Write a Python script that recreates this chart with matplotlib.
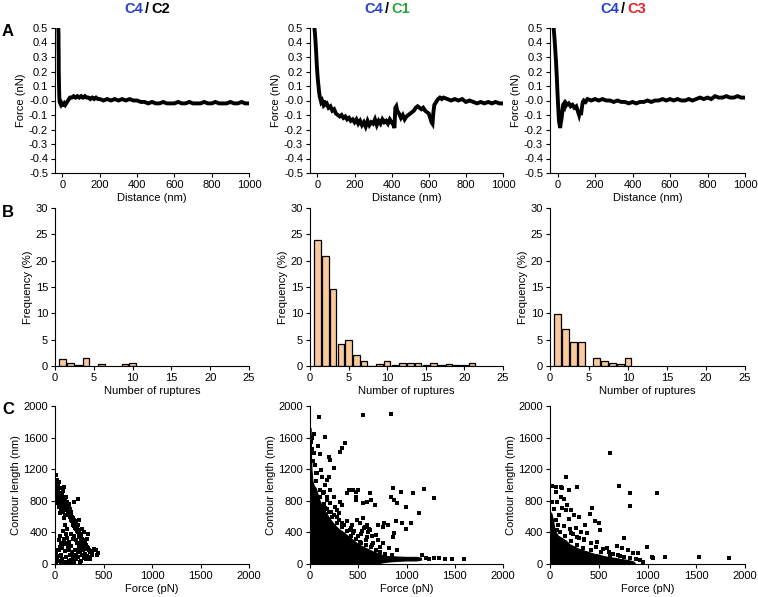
import numpy as np
import matplotlib
matplotlib.use("Agg")
from matplotlib import pyplot as plt

plt.rcParams['font.family'] = ['Liberation Sans', 'DejaVu Sans']
plt.rcParams['font.size'] = 8

# ---- row A: force curves (distance nm, force nN)
c2_dist = [-22,-21,-21,-20,-20,-19,-18,-17,-15,-12,
           -8,-4,0,5,10,15,20,25,30,35,
           40,50,60,70,80,90,100,110,120,130,
           140,150,160,170,180,190,200,220,240,260,
           280,300,320,340,360,380,400,420,440,460,
           480,500,520,540,560,580,600,620,640,660,
           680,700,720,740,760,780,800,820,840,860,
           880,900,920,940,960,980,990]
c2_force = [0.49,0.45,0.38,0.3,0.22,0.15,0.08,0.03,-0.01,-0.02,
            -0.03,-0.02,-0.03,-0.03,-0.02,-0.03,-0.02,-0.01,0.0,0.01,
            0.02,0.02,0.03,0.02,0.03,0.02,0.03,0.02,0.03,0.02,
            0.02,0.01,0.02,0.01,0.02,0.01,0.01,0.0,0.01,0.0,
            0.01,0.0,0.01,0.0,0.01,0.0,0.0,-0.01,-0.01,-0.02,
            -0.01,-0.02,-0.02,-0.01,-0.02,-0.02,-0.02,-0.01,-0.02,-0.02,
            -0.01,-0.02,-0.02,-0.02,-0.01,-0.02,-0.02,-0.01,-0.02,-0.02,
            -0.02,-0.01,-0.02,-0.02,-0.01,-0.02,-0.02]

c1_dist = [-16,-14,-12,-10,-8,-6,-4,-2,0,2,
           4,6,8,10,12,14,16,20,25,30,
           35,40,50,60,70,80,90,100,110,120,
           130,140,150,160,170,180,190,200,210,220,
           230,240,250,260,270,280,290,300,310,320,
           330,340,350,360,370,380,390,400,410,415,
           420,425,430,440,450,460,470,480,490,500,
           510,520,530,540,550,560,570,580,590,600,
           605,610,615,620,625,630,640,650,660,670,
           680,700,720,740,760,780,800,820,840,860,
           880,900,920,940,960,980,990]
c1_force = [0.5,0.47,0.44,0.4,0.36,0.31,0.26,0.22,0.18,0.15,
            0.12,0.1,0.07,0.05,0.03,0.02,0.01,-0.01,0.0,-0.02,
            0.0,-0.03,-0.02,-0.05,-0.04,-0.07,-0.06,-0.09,-0.1,-0.11,
            -0.1,-0.12,-0.11,-0.13,-0.12,-0.14,-0.13,-0.15,-0.13,-0.16,
            -0.14,-0.17,-0.15,-0.18,-0.14,-0.17,-0.15,-0.16,-0.13,-0.17,
            -0.14,-0.16,-0.13,-0.15,-0.14,-0.16,-0.13,-0.15,-0.17,-0.19,
            -0.05,-0.04,-0.07,-0.09,-0.12,-0.1,-0.13,-0.11,-0.1,-0.09,
            -0.08,-0.07,-0.05,-0.04,-0.05,-0.06,-0.05,-0.07,-0.08,-0.09,
            -0.11,-0.13,-0.15,-0.16,-0.08,-0.03,-0.01,0.01,0.02,0.01,
            0.02,0.01,0.0,0.01,0.0,0.01,-0.01,0.0,-0.01,-0.02,
            -0.01,-0.02,-0.01,-0.02,-0.01,-0.02,-0.02]

c3_dist = [-20,-18,-16,-14,-12,-10,-8,-6,-4,-2,
           0,2,4,6,8,10,12,14,16,18,
           20,22,24,26,28,30,35,40,45,50,
           60,70,80,90,100,105,110,115,120,125,
           130,135,140,150,160,180,200,220,240,260,
           280,300,320,340,360,380,400,420,440,460,
           480,500,520,540,560,580,600,620,640,660,
           680,700,720,740,760,780,800,820,840,860,
           880,900,920,940,960,980,995]
c3_force = [0.49,0.46,0.43,0.39,0.35,0.31,0.27,0.22,0.17,0.11,
            0.05,0.0,-0.05,-0.1,-0.14,-0.16,-0.17,-0.19,-0.17,-0.15,
            -0.14,-0.12,-0.1,-0.07,-0.05,-0.03,-0.02,-0.04,-0.02,-0.03,
            -0.02,-0.04,-0.03,-0.05,-0.04,-0.06,-0.08,-0.1,-0.07,-0.1,
            -0.05,-0.01,0.0,-0.01,0.01,0.0,0.01,0.0,0.01,0.0,
            0.0,-0.01,0.0,-0.01,-0.01,-0.02,-0.01,-0.02,-0.01,-0.01,
            0.0,-0.01,0.0,0.0,0.01,0.0,0.01,0.0,0.01,0.0,
            0.0,0.01,0.0,0.01,0.02,0.01,0.02,0.01,0.03,0.02,
            0.02,0.03,0.02,0.02,0.03,0.02,0.02]

# ---- row B: rupture histograms (%)
c2_ruptures = [1, 2, 3, 4, 6, 9, 10]
c2_freq = [1.4, 0.5, 0.15, 1.6, 0.35, 0.35, 0.55]
c1_ruptures = list(range(1, 22))
c1_freq = [24.0, 20.8, 14.6, 4.1, 5.0, 2.1, 1.0, 0.0, 0.3, 1.0,
           0.1, 0.6, 0.6, 0.6, 0.1, 0.5, 0.1, 0.3, 0.1, 0.1, 0.6]
c3_ruptures = [1, 2, 3, 4, 6, 7, 8, 9, 10]
c3_freq = [9.8, 7.1, 4.6, 4.6, 1.5, 1.0, 0.6, 0.4, 1.5]

# ---- row C: contour length vs force
c2_pn = [15,10,25,40,30,50,60,20,35,45,
         70,80,90,55,65,75,85,95,100,110,
         120,105,115,130,140,125,135,150,160,145,
         155,170,180,165,175,190,200,185,195,210,
         220,205,215,230,240,225,235,250,260,245,
         255,270,280,265,275,290,300,285,295,310,
         320,305,315,330,340,350,360,380,400,420,
         440,430,20,30,40,60,80,50,100,90,
         70,240,200,250,280,300,340,330,10,20,
         30,40,50,60,70,80,90,100,110,120,
         130,140,150,160,170,180,190,200,210,220,
         230,240,250,260,270,280,290,300,310,320,
         330,350,5,15,25,45,55,65,75,85,
         95,105,115,125,135,145,155,175,185,195,
         215,235,255,275,145,65,35,120,100,160,
         200,220,250,380,360,12,8,18,28,38,
         5,22,48,58,68,88,98,112,128,142]
c2_len = [1130,1000,980,1040,950,960,900,920,880,850,
          870,920,980,820,800,840,780,760,820,850,
          780,740,700,730,760,680,650,700,660,620,
          600,640,600,560,540,580,560,500,480,520,
          540,460,440,480,500,420,400,430,380,360,
          340,360,320,300,280,300,270,250,230,260,
          240,200,190,220,200,180,150,170,190,180,
          140,110,800,770,720,700,660,650,620,580,
          750,820,780,560,440,400,380,320,150,80,
          40,180,220,120,60,30,250,160,90,20,
          200,280,110,50,230,150,70,30,180,120,
          260,90,200,150,40,110,180,80,130,60,
          100,90,20,10,180,300,350,260,200,420,
          320,270,380,330,240,180,20,10,320,120,
          60,170,30,220,40,10,100,440,500,380,
          350,300,250,120,60,960,880,1060,1010,900,
          850,860,900,780,830,720,700,760,690,720]

c1_pn = [92,552,835,41,153,82,330,313,365,99,
         194,211,245,109,58,194,177,102,143,211,
         399,450,501,477,245,313,382,330,477,477,
         620,637,586,671,552,855,838,872,906,944,
         995,1063,1182,1284,1131,1046,954,995,893,872,
         855,804,770,753,702,685,620,586,552,518,
         484,432,416,450,586,654,722,262,279,296,
         228,194,160,211,177,1233,1284,1335,1403,1472,
         1601,1199,560,540,600,570,530,610,640,500,
         250,300,350,420,380,460,280,330,160,120,
         30,50,70,20,12,25,40,65,130,180,
         220,700,760,820,900,520,480,640,580,1160,
         100,140,180,230,280,330,380,430,480,530,
         580,630,680,730,780,850]
c1_len = [1857,1886,1899,1646,1612,1494,1464,1422,1527,1388,
          1358,1316,1211,1190,1147,1105,1063,937,916,937,
          937,937,937,916,852,789,895,747,852,810,
          895,810,789,747,768,966,852,810,768,916,
          726,895,945,840,650,523,523,439,549,388,
          346,494,515,473,494,367,430,494,578,515,
          557,494,430,388,346,262,219,726,684,641,
          599,662,705,768,810,68,72,72,63,59,
          68,72,450,420,400,470,380,440,360,350,
          620,560,500,460,540,420,600,520,1000,1100,
          1300,1250,1150,1450,1550,1600,1400,1050,900,850,
          660,300,260,200,180,280,320,240,300,120,
          850,760,700,600,520,470,420,360,320,270,
          240,210,180,150,130,120]
# dense cloud envelope
c1_env_pn = [0,6,10,15,25,40,60,80,100,130,
             160,200,250,300,350,400,450,500,550,600,
             650,700,750,800,900,1000,1100,1150]
c1_env_top = [1720,1720,1400,1200,1050,990,960,880,800,720,
              660,580,500,440,400,350,300,250,220,190,
              160,140,115,100,95,90,90,80]
c1_env_low = [0,0,0,0,0,0,0,0,0,0,
              0,0,0,0,0,0,0,0,0,0,
              0,10,20,30,40,45,45,55]

c3_pn = [24,58,109,160,126,194,279,611,703,822,
         822,1093,58,24,75,109,143,177,126,160,
         211,251,296,194,414,431,465,499,516,363,
         262,211,279,313,380,346,482,761,686,737,
         805,856,907,991,1042,1059,1182,1528,1834,958,
         924,584,60,90,140,200,240,300,350,420,
         470,540,600,650,700,760,820,880,40,80,
         70,100,150,220,280,340,420,520,620,720]
c3_len = [992,979,979,1097,958,937,970,1401,992,903,
          734,903,916,789,789,852,823,747,705,684,
          684,620,599,565,633,705,544,515,430,494,
          451,388,346,409,388,312,283,325,228,198,
          177,135,143,219,93,72,93,93,72,30,
          50,198,560,620,480,440,380,330,300,260,
          220,190,150,130,110,90,70,60,700,500,
          430,400,360,290,240,200,180,150,120,100]
c3_env_pn = [0,15,30,45,60,80,120,160,200,250,
             300,350,400,450,500,550,600,650,700,750,
             800,850,870]
c3_env_top = [660,640,560,450,400,360,330,300,250,220,
              190,170,150,130,120,100,90,80,70,60,
              50,35,10]

titles = [("C4", "C2", "#000000"), ("C4", "C1", "#2ca43c"), ("C4", "C3", "#e8202a")]
blue = "#2540d0"
bar_color = "#f9c99b"

W, H = 758, 597
fig = plt.figure(figsize=(W / 100, H / 100), dpi=100)

def px_axes(l, t, r, b):
    ax = fig.add_axes([l / W, 1 - b / H, (r - l) / W, (b - t) / H])
    ax.spines['top'].set_visible(False)
    ax.spines['right'].set_visible(False)
    ax.tick_params(direction='out', length=3, width=0.8, labelsize=8, pad=2)
    return ax

lefts = [55, 310, 550]
rights = [249, 503, 745]

curves = [(c2_dist, c2_force), (c1_dist, c1_force), (c3_dist, c3_force)]
hists = [(c2_ruptures, c2_freq), (c1_ruptures, c1_freq), (c3_ruptures, c3_freq)]
scatters = [(c2_pn, c2_len), (c1_pn, c1_len), (c3_pn, c3_len)]

for i in range(3):
    # row A
    ax = px_axes(lefts[i], 28, rights[i], 173)
    d, f = curves[i]
    ax.plot(d, f, color='black', lw=2.8, solid_joinstyle='miter')
    ax.set_xlim(-40, 1000)
    ax.set_ylim(-0.5, 0.5)
    ax.set_xticks(np.arange(0, 1001, 200))
    ax.set_yticks(np.arange(-0.5, 0.51, 0.1))
    ax.set_yticklabels(["{:.1f}".format(v) for v in np.arange(-0.5, 0.51, 0.1)])
    ax.set_xlabel("Distance (nm)", labelpad=2)
    ax.set_ylabel("Force (nN)", labelpad=2)

    # row B
    ax = px_axes(lefts[i], 208, rights[i], 366)
    r, fr = hists[i]
    ax.bar(r, fr, width=0.85, color=bar_color, edgecolor='black', linewidth=0.9)
    ax.set_xlim(0, 25)
    ax.set_ylim(0, 30)
    ax.set_xticks(np.arange(0, 26, 5))
    ax.set_yticks(np.arange(0, 31, 5))
    ax.set_xlabel("Number of ruptures", labelpad=2)
    ax.set_ylabel("Frequency (%)", labelpad=2)

    # row C
    ax = px_axes(lefts[i], 406, rights[i], 564)
    if i == 1:
        ax.fill_between(c1_env_pn, c1_env_low, c1_env_top, color='black', lw=0.8)
    if i == 2:
        ax.fill_between(c3_env_pn, 0, c3_env_top, color='black', lw=0.8)
    p, cl = scatters[i]
    ax.scatter(p, cl, marker='s', s=6, color='black', linewidths=0)
    ax.set_xlim(0, 2000)
    ax.set_ylim(0, 2000)
    ax.set_xticks(np.arange(0, 2001, 500))
    ax.set_yticks(np.arange(0, 2001, 400))
    ax.set_xlabel("Force (pN)", labelpad=2)
    ax.set_ylabel("Contour length (nm)", labelpad=2)

# column titles
slash_x = [147, 387, 623]
for i, (a, b, col) in enumerate(titles):
    y = 1 - 9 / H
    fig.text((slash_x[i] - 4) / W, y, a, color=blue, fontsize=10.5, fontweight='bold', ha='right', va='center')
    fig.text(slash_x[i] / W, y, "/", color='black', fontsize=10.5, fontweight='bold', ha='center', va='center')
    fig.text((slash_x[i] + 4) / W, y, b, color=col, fontsize=10.5, fontweight='bold', ha='left', va='center')

# panel letters
for letter, yp in [("A", 32), ("B", 212), ("C", 410)]:
    fig.text(2 / W, 1 - yp / H, letter, fontsize=12, fontweight='bold', ha='left', va='center')

fig.savefig("out.png", dpi=100)
